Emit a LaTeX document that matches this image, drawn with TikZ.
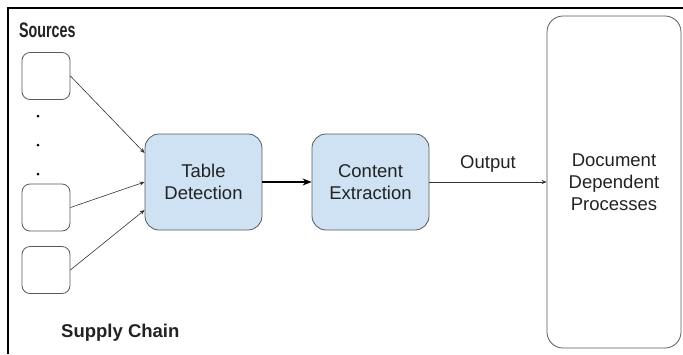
\documentclass[tikz,border=0pt]{standalone}
\usepackage{fontspec}
\setmainfont{Liberation Sans}
\usetikzlibrary{positioning, arrows.meta}

\definecolor{stepblue}{HTML}{CFE2F3}
\definecolor{edgegray}{HTML}{595959}
\definecolor{txtgray}{HTML}{222222}

\begin{document}
\begin{tikzpicture}[x=1pt, y=-1pt,
    every node/.style={font=\fontsize{18.5}{22}\selectfont, text=txtgray},
    src/.style={rectangle, rounded corners=8pt, draw=edgegray, thick, minimum width=48pt, minimum height=47pt},
    proc/.style={rectangle, rounded corners=14pt, draw=edgegray, thick, fill=stepblue, minimum width=117pt, minimum height=96pt, align=center},
    sink/.style={rectangle, rounded corners=16pt, draw=edgegray, thick, minimum width=134pt, minimum height=332pt, align=center},
    arrow/.style={-{Stealth[length=5pt, width=4pt]}, line width=0.6pt, draw=black!80},
    bigarrow/.style={-{Stealth[length=9pt, width=7pt]}, line width=1.3pt}]

  \useasboundingbox (0,0) rectangle (683,354);
  % frame
  \draw[line width=1.2pt] (8,354) -- (8,8) -- (683,8);

  \node[anchor=west, inner sep=0pt] (srctitle) at (19,30)
    {\scalebox{0.68}[1]{\fontsize{21}{24}\selectfont\bfseries Sources}};

  \node[src] (src1) at (46,76) {};
  \node[src] (src2) at (46,207.5) {};
  \node[src] (src3) at (46,270) {};
  \foreach \y in {116,145,174}
    \fill (38,\y) circle (1.5pt);

  \node[proc] (td) at (203.5,182) {Table\\Detection};
  \node[proc] (ce) at (370.5,182) {Content\\Extraction};
  \node[sink] (ddp) at (614,182) {Document\\Dependent\\Processes};

  \node[anchor=west, inner sep=0pt, font=\fontsize{18.5}{22}\selectfont\bfseries] (chain) at (61,333) {Supply Chain};

  \draw[arrow] (src1.east) -- ([yshift=29pt]td.west);
  \draw[arrow] (src2.east) -- (td.west);
  \draw[arrow] (src3.east) -- ([yshift=-28pt]td.west);
  \draw[bigarrow] (td.east) -- (ce.west);
  \draw[arrow] (ce.east) -- node[above=6pt]{Output} (ddp.west);
\end{tikzpicture}
\end{document}
